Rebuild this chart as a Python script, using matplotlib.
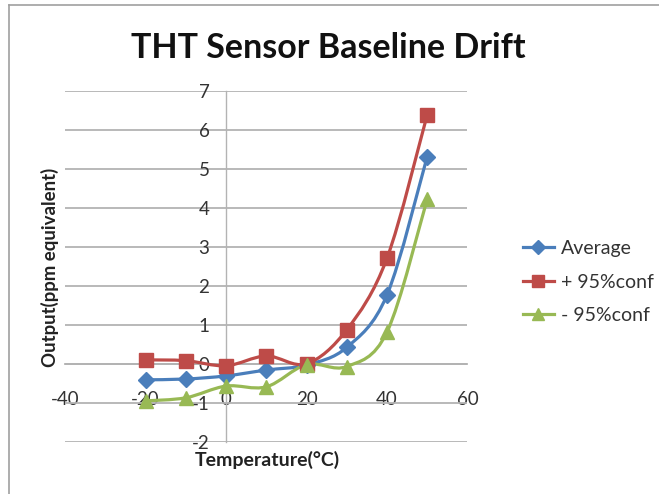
import matplotlib
matplotlib.use("Agg")
import matplotlib.pyplot as plt
from matplotlib.path import Path
from matplotlib.patches import PathPatch
from matplotlib.lines import Line2D
import numpy as np

plt.rcParams['font.family'] = ['Lato', 'DejaVu Sans']

temps = [-20, -10, 0, 10, 20, 30, 40, 50]
average = [-0.40, -0.38, -0.30, -0.15, -0.02, 0.43, 1.77, 5.31]
upper = [0.11, 0.09, -0.04, 0.21, 0.01, 0.88, 2.71, 6.38]
lower = [-0.94, -0.86, -0.56, -0.58, -0.01, -0.06, 0.82, 4.22]
series_names = ["Average", "+ 95%conf", "- 95%conf"]
colors = ["#4A7EBB", "#BE4B48", "#98B954"]
markers = ["D", "s", "^"]
msizes = [8.5, 10.3, 10.5]

W, H = 659, 494
fig = plt.figure(figsize=(W / 100, H / 100), dpi=100)
ax = fig.add_axes([65.2 / W, 1 - 442.3 / H, (467.4 - 65.2) / W, (442.3 - 90.7) / H])
ax.set_xlim(-40, 60)
ax.set_ylim(-2, 7)
ax.set_yticks(range(-2, 8))
ax.set_xticks(range(-40, 61, 20))
ax.yaxis.grid(True, color="#B3B3B3", lw=1.3)
ax.set_axisbelow(True)
for s in ["top", "right"]:
    ax.spines[s].set_visible(False)
ax.spines["left"].set_position(("data", 0))
ax.spines["bottom"].set_position(("data", 0))
ax.spines["left"].set_color("#B3B3B3")
ax.spines["bottom"].set_color("#B3B3B3")
ax.spines["left"].set_linewidth(1.0)
ax.spines["bottom"].set_linewidth(1.3)
ax.tick_params(axis="both", length=0, labelsize=13.5, colors="#333333")
ax.tick_params(axis="y", pad=12)
ax.tick_params(axis="x", pad=19)
ax.set_yticklabels([str(v) for v in range(-2, 8)])
ax.set_xticklabels([str(v) for v in range(-40, 61, 20)])


def smooth_path(xs, ys):
    pts = np.column_stack([xs, ys]).astype(float)
    n = len(pts)
    verts = [pts[0]]
    codes = [Path.MOVETO]
    for i in range(n - 1):
        p0 = pts[i - 1] if i > 0 else pts[i]
        p1 = pts[i]
        p2 = pts[i + 1]
        p3 = pts[i + 2] if i + 2 < n else pts[i + 1]
        c1 = p1 + (p2 - p0) / 6.0
        c2 = p2 - (p3 - p1) / 6.0
        verts += [c1, c2, p2]
        codes += [Path.CURVE4] * 3
    return Path(verts, codes)


handles = []
for vals, name, c, m, ms in zip([average, upper, lower], series_names, colors, markers, msizes):
    patch = PathPatch(smooth_path(temps, vals), facecolor="none", edgecolor=c, lw=2.3, zorder=3)
    ax.add_patch(patch)
    ax.plot(temps, vals, linestyle="none", marker=m, color=c, markersize=ms, zorder=4)
    handles.append(Line2D([0], [0], color=c, lw=2.3, marker=m, markersize=ms * 0.8))

fig.legend(handles, series_names, loc="center left", bbox_to_anchor=(505 / W, 1 - 282 / H),
           frameon=False, fontsize=14, handlelength=1.6, labelspacing=0.85, handletextpad=0.4,
           labelcolor="#333333")

fig.text(328 / W, 1 - 48 / H, "THT Sensor Baseline Drift", ha="center", va="center",
         fontsize=24.5, fontweight="bold", color="#111111")
fig.text(50.4 / W, 1 - 267 / H, "Output(ppm equivalent)", ha="center", va="center",
         rotation=90, fontsize=13.4, fontweight="bold", color="#222222")
fig.text(267 / W, 1 - 460 / H, "Temperature(°C)", ha="center", va="center",
         fontsize=14, fontweight="bold", color="#222222")

# chart border (cropped Excel chart area)
fig.add_artist(Line2D([9.2 / W, 9.2 / W], [0, 1 - 5 / H], transform=fig.transFigure, color="#A0A0A0", lw=1.2))
fig.add_artist(Line2D([9.2 / W, 1], [1 - 5 / H, 1 - 5 / H], transform=fig.transFigure, color="#A0A0A0", lw=1.2))

fig.savefig("out.png", dpi=100)
